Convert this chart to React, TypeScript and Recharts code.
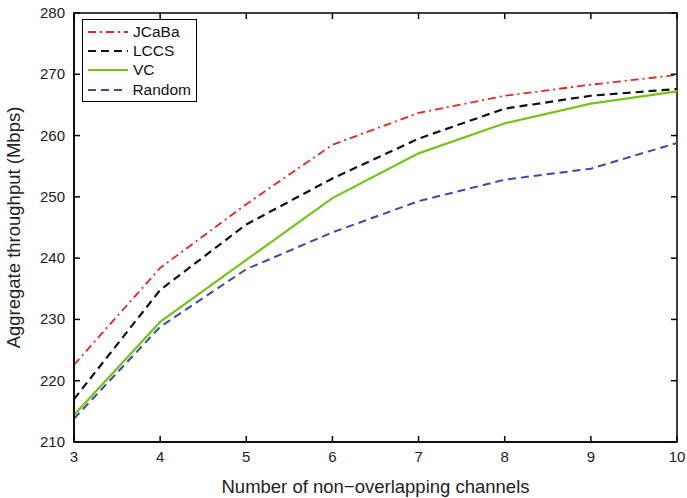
import React from "react";
import {
  LineChart,
  Line,
  XAxis,
  YAxis,
  ReferenceArea,
} from "recharts";

const channels = [3, 4, 5, 6, 7, 8, 9, 10];
const jcabaValues = [222.6, 238.4, 248.8, 258.5, 263.7, 266.5, 268.3, 269.9];
const lccsValues = [217.0, 234.8, 245.5, 253.0, 259.5, 264.4, 266.5, 267.6];
const vcValues = [214.4, 229.6, 239.7, 249.8, 257.1, 262.0, 265.2, 267.2];
const randomValues = [213.8, 228.8, 238.2, 244.2, 249.3, 252.8, 254.6, 258.8];
const yTicks = [210, 220, 230, 240, 250, 260, 270, 280];

const data = channels.map((c, i) => ({
  channels: c,
  jcaba: jcabaValues[i],
  lccs: lccsValues[i],
  vc: vcValues[i],
  random: randomValues[i],
}));

const series = [
  { key: "jcaba", name: "JCaBa", color: "#e3261f", dash: "8 4 2 4", width: 1.8 },
  { key: "lccs", name: "LCCS", color: "#111111", dash: "8 5", width: 2.2 },
  { key: "vc", name: "VC", color: "#77c21a", dash: undefined, width: 2.2 },
  { key: "random", name: "Random", color: "#3b48ac", dash: "8 5", width: 2 },
];

const FONT = "'Liberation Sans', Arial, sans-serif";
const TICK_LEN = 6;
const MARGIN = 7;
// plot box size, used to mirror the inward ticks on the top and right edges
const PLOT_W = 603;
const PLOT_H = 429;

const BottomTick = (props: any) => {
  const { x, y, payload } = props;
  const axisY = y - MARGIN;
  const topY = axisY - PLOT_H;
  return (
    <g>
      <line x1={x} y1={axisY} x2={x} y2={axisY - TICK_LEN} stroke="#000" strokeWidth={1.5} />
      <line x1={x} y1={topY} x2={x} y2={topY + TICK_LEN} stroke="#000" strokeWidth={1.5} />
      <text x={x} y={y} dy={13} textAnchor="middle" fontSize={15} fontFamily={FONT} fill="#222">
        {payload.value}
      </text>
    </g>
  );
};

const LeftTick = (props: any) => {
  const { x, y, payload } = props;
  const axisX = x + MARGIN;
  const rightX = axisX + PLOT_W;
  return (
    <g>
      <line x1={axisX} y1={y} x2={axisX + TICK_LEN} y2={y} stroke="#000" strokeWidth={1.5} />
      <line x1={rightX} y1={y} x2={rightX - TICK_LEN} y2={y} stroke="#000" strokeWidth={1.5} />
      <text x={x - 2} y={y} dy={5} textAnchor="end" fontSize={15} fontFamily={FONT} fill="#222">
        {payload.value}
      </text>
    </g>
  );
};

const LegendBox = () => (
  <div
    style={{
      position: "absolute",
      left: 82,
      top: 19,
      border: "1px solid #000",
      background: "#fff",
      padding: "2px 5px 2px 5px",
      width: 103,
      fontFamily: FONT,
      fontSize: 15.5,
      color: "#111",
    }}
  >
    {series.map((s) => (
      <div key={s.key} style={{ display: "flex", alignItems: "center", height: 19.3 }}>
        <svg width={40} height={10} style={{ marginRight: 5 }}>
          <line
            x1={0}
            y1={5}
            x2={40}
            y2={5}
            stroke={s.color}
            strokeWidth={s.width}
            strokeDasharray={s.dash}
          />
        </svg>
        <span>{s.name}</span>
      </div>
    ))}
  </div>
);

export default function App() {
  return (
    <div style={{ position: "absolute", left: 0, top: 0, width: 687, height: 498, background: "#fff" }}>
      <LineChart
        width={687}
        height={498}
        data={data}
        margin={{ top: 13, right: 10, left: 0, bottom: 0 }}
      >
        <XAxis
          dataKey="channels"
          type="number"
          domain={[3, 10]}
          ticks={channels}
          height={56}
          axisLine={{ stroke: "#000", strokeWidth: 1.5 }}
          tickLine={false}
          tickSize={0}
          tickMargin={MARGIN}
          tick={<BottomTick />}
          interval={0}
          label={{
            value: "Number of non\u2212overlapping channels",
            position: "insideBottom",
            offset: 5,
            fontSize: 18.5,
            fontFamily: FONT,
            fill: "#222",
          }}
        />
        <YAxis
          type="number"
          domain={[210, 280]}
          ticks={yTicks}
          width={74}
          axisLine={{ stroke: "#000", strokeWidth: 1.5 }}
          tickLine={false}
          tickSize={0}
          tickMargin={MARGIN}
          tick={<LeftTick />}
          interval={0}
          label={{
            value: "Aggregate throughput (Mbps)",
            angle: -90,
            position: "insideLeft",
            offset: 13,
            style: { textAnchor: "middle" },
            fontSize: 18.5,
            fontFamily: FONT,
            fill: "#222",
          }}
        />
        {series.map((s) => (
          <Line
            key={s.key}
            dataKey={s.key}
            name={s.name}
            type="linear"
            stroke={s.color}
            strokeWidth={s.width}
            strokeDasharray={s.dash}
            dot={false}
            activeDot={false}
            isAnimationActive={false}
          />
        ))}
        <ReferenceArea
          x1={3}
          x2={10}
          y1={210}
          y2={280}
          fill="none"
          stroke="#000"
          strokeWidth={1.5}
          ifOverflow="visible"
        />
      </LineChart>
      <LegendBox />
    </div>
  );
}
